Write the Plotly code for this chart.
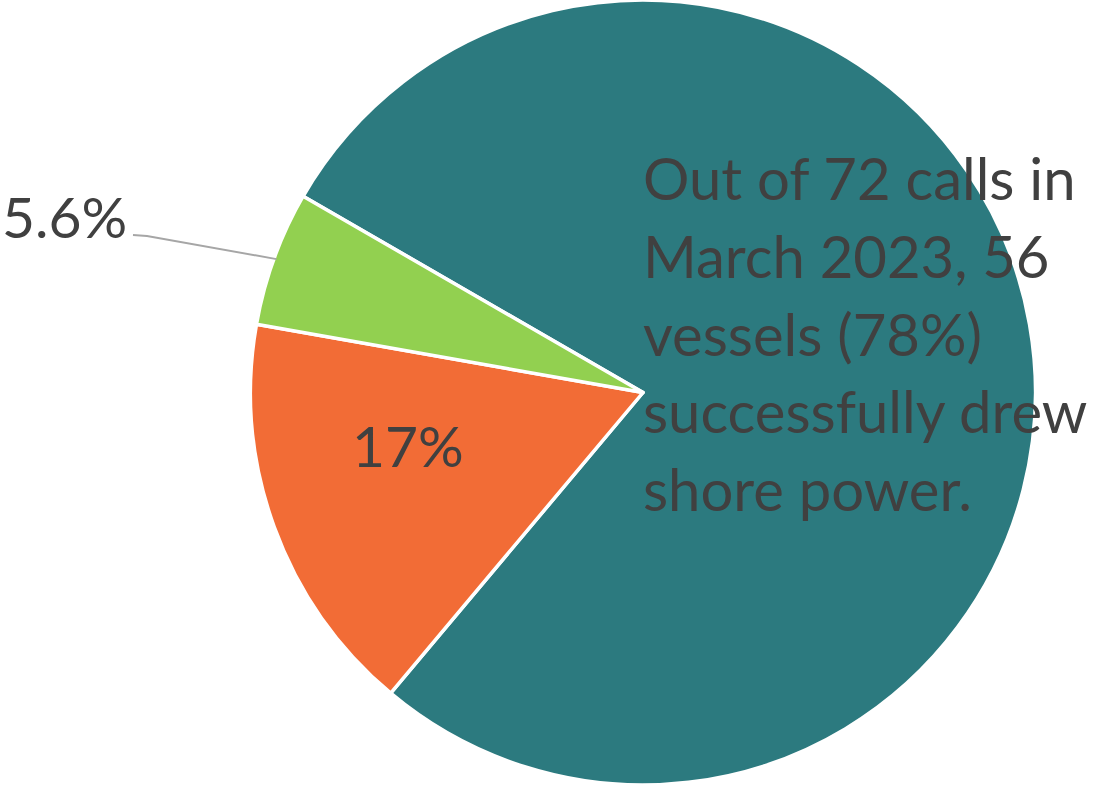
import math
import plotly.graph_objects as go

# ---- data ----
categories = ["Drew shore power", "Category B", "Category C"]
values = [56, 12, 4]
slice_text = ["", "17%", "5.6%"]
colors = ["#2C7A7F", "#F26C36", "#92D050"]
note_lines = ["Out of 72 calls in", "March 2023, 56", "vessels (78%)",
              "successfully drew", "shore power."]

W, H = 1093, 785
rotation = 300
cx, cy, R = 643, 392.5, 390

fig = go.Figure(go.Pie(
    labels=categories,
    values=values,
    textinfo="none",
    sort=False,
    direction="clockwise",
    rotation=rotation,
    marker=dict(colors=colors, line=dict(color="white", width=3.5)),
    domain=dict(x=[(cx - H / 2) / W, (cx + H / 2) / W], y=[0, 1]),
    showlegend=False,
    hoverinfo="label+percent",
))

# leader line for the small slice, end point from the data
total = sum(values)
start = rotation + 360 * (values[0] + values[1]) / total
mid = math.radians(start + 180 * values[2] / total)
ex = cx + R * math.sin(mid)
ey = cy - R * math.cos(mid)


def px(x):
    return x / W


def py(y):
    return 1 - y / H


label_font = dict(family="Lato", size=57, color="#404040")

fig.add_shape(type="path", xref="paper", yref="paper",
              path=f"M {px(133)},{py(235)} L {px(147)},{py(236)} L {px(ex)},{py(ey)}",
              line=dict(color="#A6A6A6", width=2))
fig.add_annotation(x=px(129), y=py(216), xref="paper", yref="paper",
                   text=slice_text[2], showarrow=False, xanchor="right", yanchor="middle",
                   font=label_font)
fig.add_annotation(x=px(408), y=py(445), xref="paper", yref="paper",
                   text=slice_text[1], showarrow=False, xanchor="center", yanchor="middle",
                   font=label_font)

for i, line in enumerate(note_lines):
    fig.add_annotation(x=px(641), y=py(178 + 77.5 * i), xref="paper", yref="paper",
                       text=line, showarrow=False, align="left",
                       xanchor="left", yanchor="middle",
                       font=dict(family="Lato", size=58, color="#404040"))

fig.update_layout(width=W, height=H, margin=dict(l=0, r=0, t=0, b=0),
                  paper_bgcolor="white", plot_bgcolor="white")
fig.write_html("out.html", post_script="document.body.style.margin='0';",
               config={"displayModeBar": False})
